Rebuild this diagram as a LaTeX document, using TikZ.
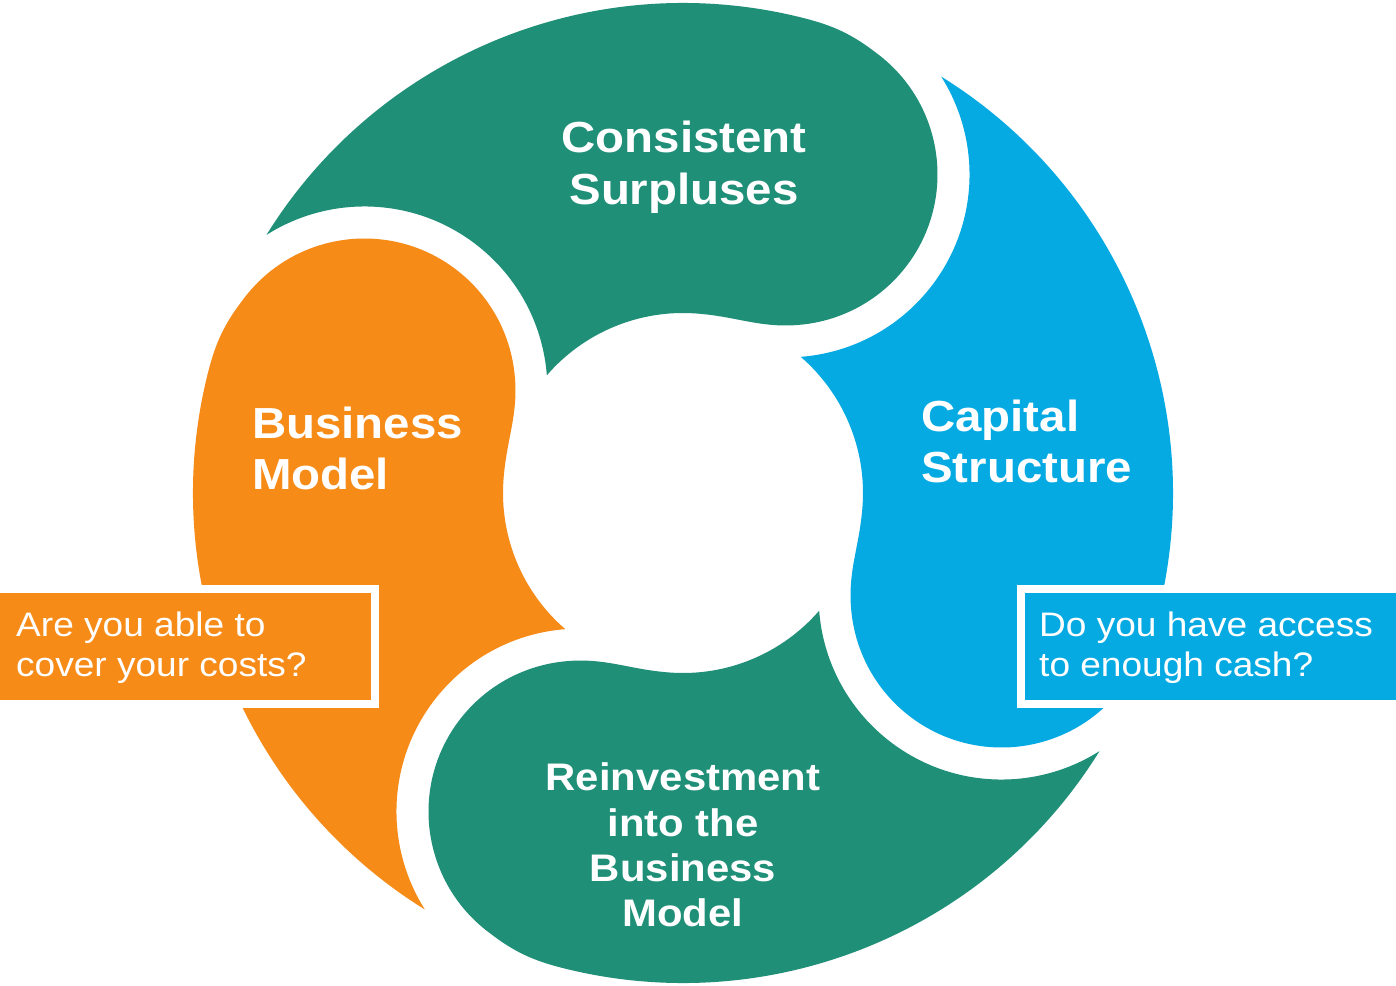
\documentclass[tikz,border=0pt]{standalone}
\usepackage{fontspec}
\setmainfont{Liberation Sans}
\newfontfamily\cyclefont[FakeStretch=1.09]{Liberation Sans}
\definecolor{cycgreen}{RGB}{31,143,120}
\definecolor{cycorange}{RGB}{246,139,24}
\definecolor{cycblue}{RGB}{6,170,227}
\begin{document}
\begin{tikzpicture}[x=1pt,y=1pt,
  % one swirl segment: head bulb on the +x axis, tail cut round the next bulb at 90 degrees
  swirl/.pic={
    \fill[pic actions] (76.21:490)
      arc[start angle=76.21, end angle=4, radius=490]
      to[out=-86, in=70] (476.9,-51.6)
      arc[start angle=-20, end angle=-155, radius=151]
      to[out=115, in=-76] (14:180)
      arc[start angle=14, end angle=67.15, radius=180]
      arc[start angle=-67.55, end angle=50.33, radius=183]
      -- cycle;
  },
  title/.style={text=white, inner sep=0pt,
    font=\cyclefont\bfseries\fontsize{43.5}{51.5}\selectfont},
  smalltitle/.style={text=white, inner sep=0pt,
    font=\cyclefont\bfseries\fontsize{38.4}{45.3}\selectfont},
  question/.style={text=white, inner sep=0pt,
    font=\cyclefont\fontsize{34}{39.3}\selectfont},
  callbox/.style={draw=white, line width=8pt}
]
\useasboundingbox (-683,-492) rectangle (713,493);
\fill[white] (-683,-492) rectangle (713,493);

% the four segments of the cycle
\pic[fill=cycgreen, rotate=72]   (surplusseg) {swirl};
\pic[fill=cycblue, rotate=-18]   (capitalseg) {swirl};
\pic[fill=cycgreen, rotate=-108] (reinvestseg) {swirl};
\pic[fill=cycorange, rotate=162] (modelseg) {swirl};

% segment titles
\node[title, anchor=base] (surplus) at (1,340)
  {\begin{tabular}[t]{@{}c@{}}Consistent\\Surpluses\end{tabular}};
\node[title, anchor=base west] (capital) at (238,61.6)
  {\begin{tabular}[t]{@{}l@{}}Capital\\Structure\end{tabular}};
\node[title, anchor=base west] (model) at (-431,55)
  {\begin{tabular}[t]{@{}l@{}}Business\\Model\end{tabular}};
\node[smalltitle, anchor=base] (reinvest) at (0,-297.7)
  {\begin{tabular}[t]{@{}c@{}}Reinvestment\\into the\\Business\\Model\end{tabular}};

% question call-outs
\draw[callbox, fill=cycorange] (-700,-96.2) rectangle (-307.8,-210.9);
\node[question, anchor=base west] (costs) at (-667,-143.7)
  {\begin{tabular}[t]{@{}l@{}}Are you able to\\cover your costs?\end{tabular}};
\draw[callbox, fill=cycblue] (338.3,-96.2) rectangle (730,-210.9);
\node[question, anchor=base west] (cash) at (356,-143.7)
  {\begin{tabular}[t]{@{}l@{}}Do you have access\\to enough cash?\end{tabular}};
\end{tikzpicture}
\end{document}
